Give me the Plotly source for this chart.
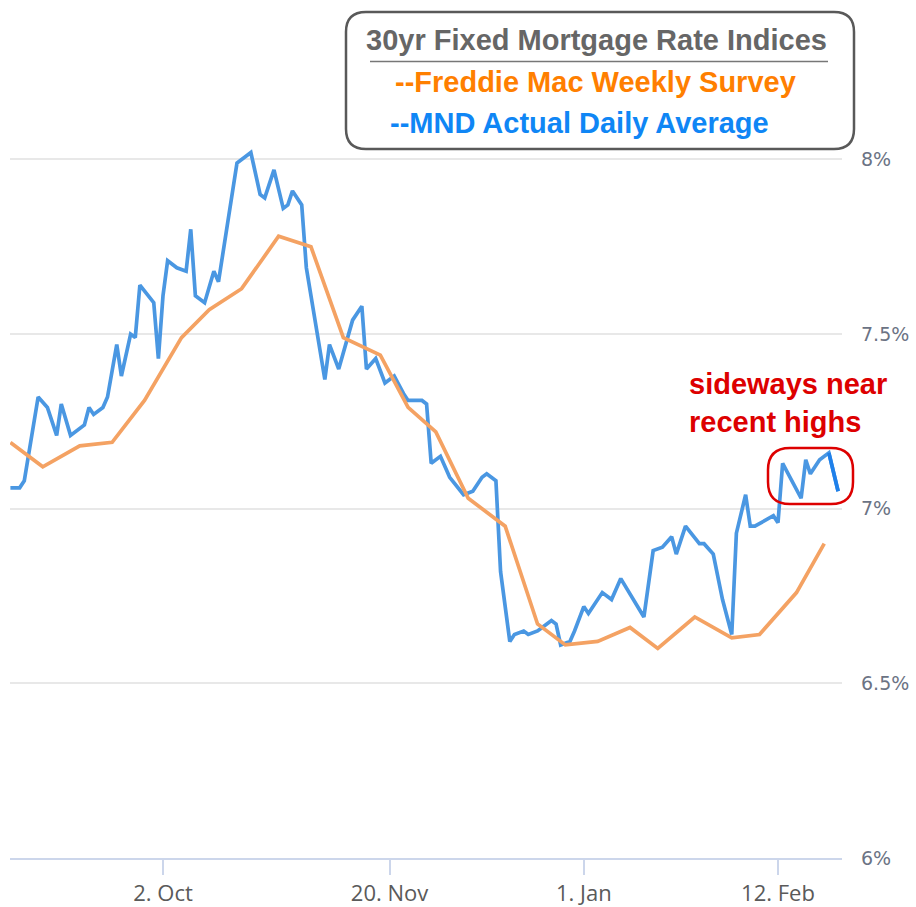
import plotly.graph_objects as go

# ---------------- data ----------------
mnd_dates = [
    "2023-08-30", "2023-09-01", "2023-09-02", "2023-09-05", "2023-09-07", "2023-09-09",
    "2023-09-10", "2023-09-11", "2023-09-12", "2023-09-15", "2023-09-16", "2023-09-17",
    "2023-09-19", "2023-09-20", "2023-09-22", "2023-09-23", "2023-09-25", "2023-09-26",
    "2023-09-27", "2023-09-30", "2023-10-01", "2023-10-02", "2023-10-03", "2023-10-05",
    "2023-10-07", "2023-10-08", "2023-10-09", "2023-10-11", "2023-10-13", "2023-10-14",
    "2023-10-17", "2023-10-18", "2023-10-21", "2023-10-23", "2023-10-24", "2023-10-26",
    "2023-10-28", "2023-10-29", "2023-10-30", "2023-11-01", "2023-11-02", "2023-11-04",
    "2023-11-06", "2023-11-07", "2023-11-09", "2023-11-12", "2023-11-14", "2023-11-15",
    "2023-11-17", "2023-11-19", "2023-11-21", "2023-11-23", "2023-11-24", "2023-11-27",
    "2023-11-28", "2023-11-29", "2023-12-01", "2023-12-03", "2023-12-06", "2023-12-08",
    "2023-12-10", "2023-12-11", "2023-12-13", "2023-12-14", "2023-12-16", "2023-12-17",
    "2023-12-19", "2023-12-20", "2023-12-22", "2023-12-23", "2023-12-25", "2023-12-26",
    "2023-12-27", "2023-12-29", "2023-12-30", "2024-01-01", "2024-01-02", "2024-01-05",
    "2024-01-07", "2024-01-09", "2024-01-14", "2024-01-16", "2024-01-18", "2024-01-20",
    "2024-01-21", "2024-01-23", "2024-01-26", "2024-01-27", "2024-01-29", "2024-01-31",
    "2024-02-02", "2024-02-03", "2024-02-05", "2024-02-06", "2024-02-07", "2024-02-11",
    "2024-02-12", "2024-02-13", "2024-02-17", "2024-02-18", "2024-02-19", "2024-02-21",
    "2024-02-23", "2024-02-25",
]
mnd_rates = [
    7.06, 7.06, 7.08, 7.32, 7.29, 7.21,
    7.30, 7.25, 7.21, 7.24, 7.29, 7.27,
    7.29, 7.32, 7.47, 7.38, 7.50, 7.49,
    7.64, 7.59, 7.43, 7.61, 7.71, 7.69,
    7.68, 7.80, 7.61, 7.59, 7.68, 7.65,
    7.90, 7.99, 8.02, 7.90, 7.89, 7.97,
    7.86, 7.87, 7.91, 7.87, 7.69, 7.53,
    7.37, 7.47, 7.40, 7.54, 7.58, 7.40,
    7.43, 7.36, 7.38, 7.33, 7.31, 7.31,
    7.30, 7.13, 7.15, 7.09, 7.04, 7.05,
    7.09, 7.10, 7.08, 6.82, 6.62, 6.64,
    6.65, 6.64, 6.65, 6.66, 6.68, 6.67,
    6.61, 6.62, 6.65, 6.72, 6.70, 6.76,
    6.74, 6.80, 6.69, 6.88, 6.89, 6.92,
    6.87, 6.95, 6.90, 6.90, 6.87, 6.74,
    6.64, 6.93, 7.04, 6.95, 6.95, 6.98,
    6.96, 7.13, 7.03, 7.14, 7.10, 7.14,
    7.16, 7.05,
]

freddie_dates = [
    "2023-08-30", "2023-09-06", "2023-09-14", "2023-09-21", "2023-09-28", "2023-10-06",
    "2023-10-12", "2023-10-19", "2023-10-27", "2023-11-03", "2023-11-10", "2023-11-18",
    "2023-11-24", "2023-11-30", "2023-12-07", "2023-12-15", "2023-12-22", "2023-12-28",
    "2024-01-04", "2024-01-11", "2024-01-17", "2024-01-25", "2024-02-02", "2024-02-08",
    "2024-02-16", "2024-02-22",
]
freddie_rates = [
    7.19, 7.12, 7.18, 7.19, 7.31, 7.49,
    7.57, 7.63, 7.78, 7.75, 7.49, 7.44,
    7.29, 7.22, 7.03, 6.95, 6.67, 6.61,
    6.62, 6.66, 6.60, 6.69, 6.63, 6.64,
    6.76, 6.90,
]

x_tick_vals = ["2023-10-02", "2023-11-20", "2024-01-01", "2024-02-12"]
x_tick_text = ["2. Oct", "20. Nov", "1. Jan", "12. Feb"]
y_tick_vals = [6, 6.5, 7, 7.5, 8]
y_tick_text = ["6%", "6.5%", "7%", "7.5%", "8%"]

# ---------------- layout helpers (pixel -> paper) ----------------
W, H = 916, 907
ML, MR, MT, MB = 10, 74, 142, 49
PW, PH = W - ML - MR, H - MT - MB


def PX(px):
    return (px - ML) / PW


def PY(py):
    return (H - MB - py) / PH


def rrect(x0, y0, x1, y1, r):
    return (
        f"M {PX(x0 + r)},{PY(y0)} L {PX(x1 - r)},{PY(y0)} "
        f"Q {PX(x1)},{PY(y0)} {PX(x1)},{PY(y0 + r)} "
        f"L {PX(x1)},{PY(y1 - r)} Q {PX(x1)},{PY(y1)} {PX(x1 - r)},{PY(y1)} "
        f"L {PX(x0 + r)},{PY(y1)} Q {PX(x0)},{PY(y1)} {PX(x0)},{PY(y1 - r)} "
        f"L {PX(x0)},{PY(y0 + r)} Q {PX(x0)},{PY(y0)} {PX(x0 + r)},{PY(y0)} Z"
    )


fig = go.Figure()
fig.add_trace(go.Scatter(x=mnd_dates, y=mnd_rates, mode="lines",
                         line=dict(color="#4a97e2", width=3.7), name="MND"))
fig.add_trace(go.Scatter(x=mnd_dates[-2:], y=mnd_rates[-2:], mode="lines",
                         line=dict(color="#1f80ea", width=3.7), showlegend=False))
fig.add_trace(go.Scatter(x=freddie_dates, y=freddie_rates, mode="lines",
                         line=dict(color="#f4a263", width=3.7), name="Freddie"))

bold = "Liberation Sans, Arial, sans-serif"

fig.update_layout(
    width=W, height=H,
    margin=dict(l=ML, r=MR, t=MT, b=MB, autoexpand=False),
    paper_bgcolor="white", plot_bgcolor="white",
    showlegend=False,
    xaxis=dict(
        type="date", automargin=False,
        range=["2023-08-29 21:53", "2024-02-25 20:10"],
        tickvals=x_tick_vals, ticktext=x_tick_text,
        showgrid=False, zeroline=False,
        showline=True, linecolor="#ccd6eb", linewidth=2,
        ticks="outside", ticklen=15, tickcolor="#ccd6eb", tickwidth=1.5,
        tickfont=dict(family="Open Sans, sans-serif", size=22, color="#5a5a5a"),
    ),
    yaxis=dict(
        side="right", automargin=False,
        range=[6, 8.05],
        tickvals=y_tick_vals, ticktext=y_tick_text,
        showgrid=True, gridcolor="#e8e8e8", gridwidth=2,
        zeroline=False, showline=False, ticks="",
        ticklabelstandoff=18,
        tickfont=dict(family="DejaVu Sans, Verdana, sans-serif", size=19, color="#6b7384"),
    ),
    shapes=[
        dict(type="path", xref="paper", yref="paper", path=rrect(346, 12, 854, 149, 20),
             line=dict(color="#595959", width=2.5), fillcolor="white", layer="above"),
        dict(type="line", xref="paper", yref="paper", x0=PX(370), x1=PX(828),
             y0=PY(61.5), y1=PY(61.5), line=dict(color="#777777", width=1.5)),
        dict(type="path", xref="paper", yref="paper", path=rrect(768, 448, 853, 504, 22),
             line=dict(color="#dd0000", width=2.5), layer="above"),
    ],
    annotations=[
        dict(xref="paper", yref="paper", x=PX(596), y=PY(40), xanchor="center", yanchor="middle",
             text="<b>30yr Fixed Mortgage Rate Indices</b>", showarrow=False,
             font=dict(family=bold, size=29, color="#666666")),
        dict(xref="paper", yref="paper", x=PX(393), y=PY(82), xanchor="left", yanchor="middle",
             text="<b>--Freddie Mac Weekly Survey</b>", showarrow=False,
             font=dict(family=bold, size=29, color="#ff7f00")),
        dict(xref="paper", yref="paper", x=PX(388), y=PY(123), xanchor="left", yanchor="middle",
             text="<b>--MND Actual Daily Average</b>", showarrow=False,
             font=dict(family=bold, size=29, color="#0f86f5")),
        dict(xref="paper", yref="paper", x=PX(687), y=PY(403), xanchor="left", yanchor="middle",
             align="left", text="<b>sideways near<br>recent highs</b>", showarrow=False,
             font=dict(family=bold, size=29, color="#dd0000")),
    ],
)

fig.write_html("out.html", config={"displayModeBar": False},
               post_script="document.body.style.margin='0';")
